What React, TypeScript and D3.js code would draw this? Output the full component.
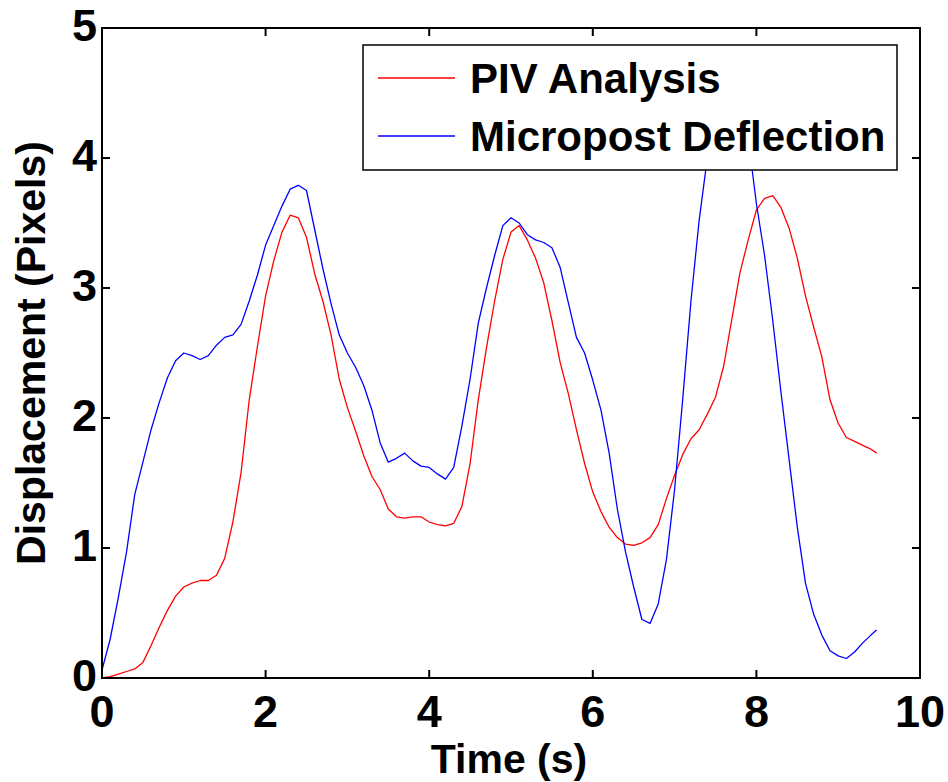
import React, {useRef, useEffect} from 'react'
import * as d3 from 'd3'

const times = [
  0.0, 0.1, 0.2, 0.3, 0.4, 0.5, 0.6, 0.7, 0.8, 0.9,
  1.0, 1.1, 1.2, 1.3, 1.4, 1.5, 1.6, 1.7, 1.8, 1.9,
  2.0, 2.1, 2.2, 2.3, 2.4, 2.5, 2.6, 2.7, 2.8, 2.9,
  3.0, 3.1, 3.2, 3.3, 3.4, 3.5, 3.6, 3.7, 3.8, 3.9,
  4.0, 4.1, 4.2, 4.3, 4.4, 4.5, 4.6, 4.7, 4.8, 4.9,
  5.0, 5.1, 5.2, 5.3, 5.4, 5.5, 5.6, 5.7, 5.8, 5.9,
  6.0, 6.1, 6.2, 6.3, 6.4, 6.5, 6.6, 6.7, 6.8, 6.9,
  7.0, 7.1, 7.2, 7.3, 7.4, 7.5, 7.6, 7.7, 7.8, 7.9,
  8.0, 8.1, 8.2, 8.3, 8.4, 8.5, 8.6, 8.7, 8.8, 8.9,
  9.0, 9.1, 9.2, 9.3, 9.4, 9.47
]

const pivAnalysis = [
  0.00, 0.01, 0.03, 0.05, 0.07, 0.12, 0.25, 0.39, 0.52, 0.63,
  0.70, 0.73, 0.75, 0.75, 0.79, 0.92, 1.20, 1.58, 2.14, 2.55,
  2.94, 3.21, 3.43, 3.56, 3.54, 3.39, 3.11, 2.90, 2.64, 2.30,
  2.08, 1.90, 1.71, 1.55, 1.45, 1.30, 1.24, 1.23, 1.24, 1.24,
  1.20, 1.18, 1.17, 1.19, 1.32, 1.65, 2.14, 2.54, 2.90, 3.22,
  3.43, 3.48, 3.37, 3.23, 3.04, 2.75, 2.43, 2.19, 1.91, 1.65,
  1.43, 1.28, 1.16, 1.08, 1.03, 1.02, 1.04, 1.08, 1.18, 1.38,
  1.56, 1.72, 1.84, 1.91, 2.03, 2.16, 2.40, 2.76, 3.12, 3.37,
  3.60, 3.69, 3.71, 3.62, 3.46, 3.23, 2.94, 2.70, 2.47, 2.14,
  1.96, 1.85, 1.82, 1.79, 1.76, 1.73
]

const micropostDeflection = [
  0.06, 0.30, 0.62, 0.97, 1.41, 1.66, 1.91, 2.12, 2.31, 2.44,
  2.50, 2.48, 2.45, 2.48, 2.56, 2.62, 2.64, 2.72, 2.90, 3.10,
  3.33, 3.48, 3.63, 3.76, 3.79, 3.75, 3.45, 3.15, 2.88, 2.64,
  2.50, 2.39, 2.25, 2.06, 1.81, 1.66, 1.69, 1.73, 1.67, 1.63,
  1.62, 1.57, 1.53, 1.62, 1.94, 2.30, 2.73, 3.00, 3.25, 3.48,
  3.54, 3.50, 3.41, 3.37, 3.35, 3.31, 3.16, 2.89, 2.62, 2.50,
  2.29, 2.06, 1.73, 1.30, 0.97, 0.70, 0.45, 0.42, 0.57, 0.91,
  1.45, 2.15, 2.90, 3.52, 4.00, 4.32, 4.55, 4.60, 4.45, 4.15,
  3.65, 3.25, 2.75, 2.20, 1.68, 1.16, 0.73, 0.49, 0.33, 0.21,
  0.17, 0.15, 0.20, 0.27, 0.33, 0.37
]

const xTicks = [0, 2, 4, 6, 8, 10]
const yTicks = [0, 1, 2, 3, 4, 5]

const seriesNames = ['PIV Analysis', 'Micropost Deflection']
const seriesColors = ['#ff0000', '#0000ff']

const FONT = 'Arial, "Liberation Sans", Helvetica, sans-serif'

function App() {
  const container = useRef(null)

  useEffect(() => {
    const svg = d3.select(container.current)
    svg.selectAll('*').remove()

    const left = 102
    const right = 920
    const top = 28
    const bottom = 678

    const x = d3.scaleLinear().domain([0, 10]).range([left, right])
    const y = d3.scaleLinear().domain([0, 5]).range([bottom, top])

    const line = d3
      .line()
      .x(d => x(d[0]))
      .y(d => y(d[1]))

    const series = [pivAnalysis, micropostDeflection]
    series.forEach((values, i) => {
      svg
        .append('path')
        .datum(times.map((t, j) => [t, values[j]]))
        .attr('fill', 'none')
        .attr('stroke', seriesColors[i])
        .attr('stroke-width', 1.3)
        .attr('stroke-linejoin', 'round')
        .attr('d', line)
    })

    // ticks on all four sides, pointing inward
    const tickLen = 8
    const ticks = svg.append('g').attr('stroke', '#000').attr('stroke-width', 2)
    xTicks.forEach(t => {
      ticks.append('line').attr('x1', x(t)).attr('x2', x(t)).attr('y1', bottom).attr('y2', bottom - tickLen)
      ticks.append('line').attr('x1', x(t)).attr('x2', x(t)).attr('y1', top).attr('y2', top + tickLen)
    })
    yTicks.forEach(v => {
      ticks.append('line').attr('x1', left).attr('x2', left + tickLen).attr('y1', y(v)).attr('y2', y(v))
      ticks.append('line').attr('x1', right).attr('x2', right - tickLen).attr('y1', y(v)).attr('y2', y(v))
    })

    svg
      .append('rect')
      .attr('x', left)
      .attr('y', top)
      .attr('width', right - left)
      .attr('height', bottom - top)
      .attr('fill', 'none')
      .attr('stroke', '#000')
      .attr('stroke-width', 2)

    svg
      .append('g')
      .selectAll('text')
      .data(xTicks)
      .join('text')
      .attr('x', d => x(d))
      .attr('y', 727)
      .attr('text-anchor', 'middle')
      .style('font-family', FONT)
      .style('font-weight', 'bold')
      .style('font-size', '45px')
      .text(d => d)

    svg
      .append('g')
      .selectAll('text')
      .data(yTicks)
      .join('text')
      .attr('x', 97)
      .attr('y', d => y(d) + 13)
      .attr('text-anchor', 'end')
      .style('font-family', FONT)
      .style('font-weight', 'bold')
      .style('font-size', '45px')
      .text(d => d)

    svg
      .append('text')
      .attr('x', (left + right) / 2 - 2)
      .attr('y', 773)
      .attr('text-anchor', 'middle')
      .style('font-family', FONT)
      .style('font-weight', 'bold')
      .style('font-size', '41px')
      .text('Time (s)')

    svg
      .append('text')
      .attr('transform', `translate(45, ${(top + bottom) / 2}) rotate(-90)`)
      .attr('text-anchor', 'middle')
      .style('font-family', FONT)
      .style('font-weight', 'bold')
      .style('font-size', '41px')
      .text('Displacement (Pixels)')

    // legend
    const legend = svg.append('g')
    legend
      .append('rect')
      .attr('x', 363)
      .attr('y', 45)
      .attr('width', 534)
      .attr('height', 125)
      .attr('fill', '#fff')
      .attr('stroke', '#000')
      .attr('stroke-width', 1.5)
    seriesNames.forEach((name, i) => {
      const ly = 78 + i * 58
      legend
        .append('line')
        .attr('x1', 378)
        .attr('x2', 455)
        .attr('y1', ly)
        .attr('y2', ly)
        .attr('stroke', seriesColors[i])
        .attr('stroke-width', 1.3)
      legend
        .append('text')
        .attr('x', 470)
        .attr('y', ly + 15)
        .style('font-family', FONT)
        .style('font-weight', 'bold')
        .style('font-size', '42px')
        .text(name)
    })
  }, [])

  return (
    <svg
      width="948"
      height="782"
      style={{position: 'absolute', left: 0, top: 0, background: '#fff'}}
    >
      <g ref={container} />
    </svg>
  )
}

export default App
